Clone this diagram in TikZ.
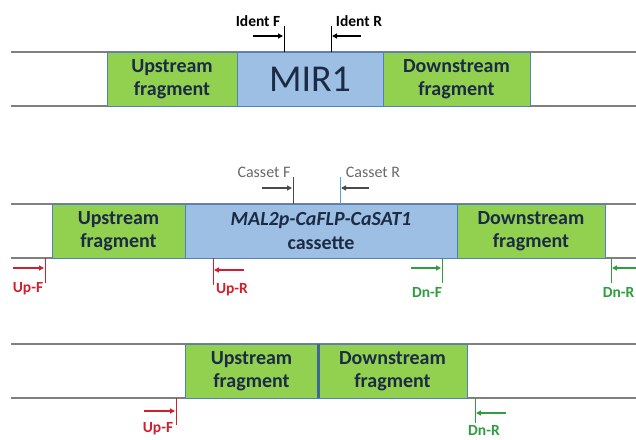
\documentclass[tikz,border=0pt]{standalone}
\usepackage{fontspec}
\setmainfont{Carlito}
\usetikzlibrary{arrows.meta}
\definecolor{gfill}{HTML}{92D050}
\definecolor{bfill}{HTML}{9DBFE4}
\definecolor{bedge}{HTML}{4F81BD}
\definecolor{gline}{HTML}{808080}
\definecolor{navy}{HTML}{1C2B45}
\definecolor{pred}{HTML}{D02030}
\definecolor{pgreen}{HTML}{2E9E3E}
\definecolor{cgray}{HTML}{6A6A6A}
\definecolor{ctick}{HTML}{4AA8D8}
\tikzset{
  backbone/.style={draw=gline, line width=2.2pt},
  fragbox/.style={draw=bedge, line width=0.8pt, fill=gfill, inner sep=0pt, minimum height=54pt,
     align=center, font=\fontsize{20}{23.5}\selectfont\bfseries, text=navy},
  cassbox/.style={fragbox, fill=bfill},
  ticker/.style={line width=1pt},
  primarrow/.style={line width=1.2pt, -{Triangle[length=5pt,width=5pt]}},
  identlab/.style={font=\fontsize{15.5}{17}\selectfont\bfseries, text=black, inner sep=0pt},
  casslab/.style={font=\fontsize{16}{18}\selectfont, text=cgray, inner sep=0pt},
  primlab/.style={font=\fontsize{15.5}{17}\selectfont\bfseries, inner sep=0pt},
}
\begin{document}
\begin{tikzpicture}[x=1pt,y=-1pt]
\useasboundingbox (0,0) rectangle (636,439);
\fill[white] (0,0) rectangle (636,439);
% ---------- row 1 ----------
\coordinate (r1tl) at (11,52); \coordinate (r1tr) at (640,52);
\coordinate (r1bl) at (11,106); \coordinate (r1br) at (640,106);
\draw[backbone] (r1tl) -- (r1tr);
\draw[backbone] (r1bl) -- (r1br);
\node[fragbox, minimum width=130pt] (u1) at (172,79) {Upstream\\fragment};
\node[cassbox, minimum width=146pt, font=\fontsize{38}{40}\selectfont] (mir) at (310,79) {MIR1};
\node[fragbox, minimum width=147pt] (d1) at (456.5,79) {Downstream\\fragment};
% ident primers
\coordinate (ifb) at (284,52); \coordinate (ift) at (284,26);
\coordinate (ifs) at (253,36); \coordinate (ife) at (283,36);
\draw[ticker] (ifb) -- (ift);
\draw[primarrow] (ifs) -- (ife);
\node[identlab] (iflab) at (258,21) {Ident F};
\coordinate (irb) at (331,52); \coordinate (irt) at (331,26);
\coordinate (irs) at (361,36); \coordinate (ire) at (332,36);
\draw[ticker] (irb) -- (irt);
\draw[primarrow] (irs) -- (ire);
\node[identlab] (irlab) at (359,21) {Ident R};
% ---------- row 2 ----------
\coordinate (r2tl) at (11,204); \coordinate (r2tr) at (640,204);
\coordinate (r2bl) at (11,258); \coordinate (r2br) at (640,258);
\draw[backbone] (r2tl) -- (r2tr);
\draw[backbone] (r2bl) -- (r2br);
\node[fragbox, minimum width=133pt] (u2) at (118.5,231) {Upstream\\fragment};
\node[cassbox, minimum width=272pt] (cas) at (321,231) {\itshape MAL2p-CaFLP-CaSAT1\\cassette};
\node[fragbox, minimum width=148pt] (d2) at (531,231) {Downstream\\fragment};
% cassette primers
\coordinate (cfb) at (293,204); \coordinate (cft) at (293,177);
\coordinate (cfs) at (262,188); \coordinate (cfe) at (292,188);
\draw[ticker, cgray!70!black] (cfb) -- (cft);
\draw[primarrow, cgray!70!black] (cfs) -- (cfe);
\node[casslab] (cflab) at (264,172) {Casset F};
\coordinate (crb) at (340,204); \coordinate (crt) at (340,177);
\coordinate (crs) at (369,188); \coordinate (cre) at (341,188);
\draw[ticker, ctick] (crb) -- (crt);
\draw[primarrow, cgray!70!black] (crs) -- (cre);
\node[casslab] (crlab) at (373,172) {Casset R};
% up / dn primers row 2
\coordinate (uf2b) at (45,258); \coordinate (uf2t) at (45,283);
\coordinate (uf2s) at (13,268); \coordinate (uf2e) at (44,268);
\draw[ticker, pred] (uf2b) -- (uf2t);
\draw[primarrow, pred] (uf2s) -- (uf2e);
\node[primlab, text=pred] (uf2lab) at (28,289) {Up-F};
\coordinate (ur2b) at (213,258); \coordinate (ur2t) at (213,285);
\coordinate (ur2s) at (244,270); \coordinate (ur2e) at (214,270);
\draw[ticker, pred] (ur2b) -- (ur2t);
\draw[primarrow, pred] (ur2s) -- (ur2e);
\node[primlab, text=pred] (ur2lab) at (232,290) {Up-R};
\coordinate (df2b) at (442,258); \coordinate (df2t) at (442,283);
\coordinate (df2s) at (411,268); \coordinate (df2e) at (441,268);
\draw[ticker, pgreen] (df2b) -- (df2t);
\draw[primarrow, pgreen] (df2s) -- (df2e);
\node[primlab, text=pgreen] (df2lab) at (427,292) {Dn-F};
\coordinate (dr2b) at (611,258); \coordinate (dr2t) at (611,283);
\coordinate (dr2s) at (640,268); \coordinate (dr2e) at (612,268);
\draw[ticker, pgreen] (dr2b) -- (dr2t);
\draw[primarrow, pgreen] (dr2s) -- (dr2e);
\node[primlab, text=pgreen, anchor=east] (dr2lab) at (634.5,292) {Dn-R};
% ---------- row 3 ----------
\coordinate (r3tl) at (11,344); \coordinate (r3tr) at (640,344);
\coordinate (r3bl) at (11,398); \coordinate (r3br) at (640,398);
\draw[backbone] (r3tl) -- (r3tr);
\draw[backbone] (r3bl) -- (r3br);
\node[fragbox, minimum width=133pt] (u3) at (251.5,371) {Upstream\\fragment};
\node[fragbox, minimum width=149pt] (d3) at (392.5,371) {Downstream\\fragment};
\draw[bedge!80!black, line width=3pt] (u3.north east) -- (u3.south east);
% primers row 3
\coordinate (uf3b) at (176,398); \coordinate (uf3t) at (176,425);
\coordinate (uf3s) at (144,411); \coordinate (uf3e) at (175,411);
\draw[ticker, pred] (uf3b) -- (uf3t);
\draw[primarrow, pred] (uf3s) -- (uf3e);
\node[primlab, text=pred] (uf3lab) at (158,429) {Up-F};
\coordinate (dr3b) at (475,398); \coordinate (dr3t) at (475,423);
\coordinate (dr3s) at (506,413); \coordinate (dr3e) at (476,413);
\draw[ticker, pgreen] (dr3b) -- (dr3t);
\draw[primarrow, pgreen] (dr3s) -- (dr3e);
\node[primlab, text=pgreen] (dr3lab) at (484,430) {Dn-R};
\end{tikzpicture}
\end{document}
